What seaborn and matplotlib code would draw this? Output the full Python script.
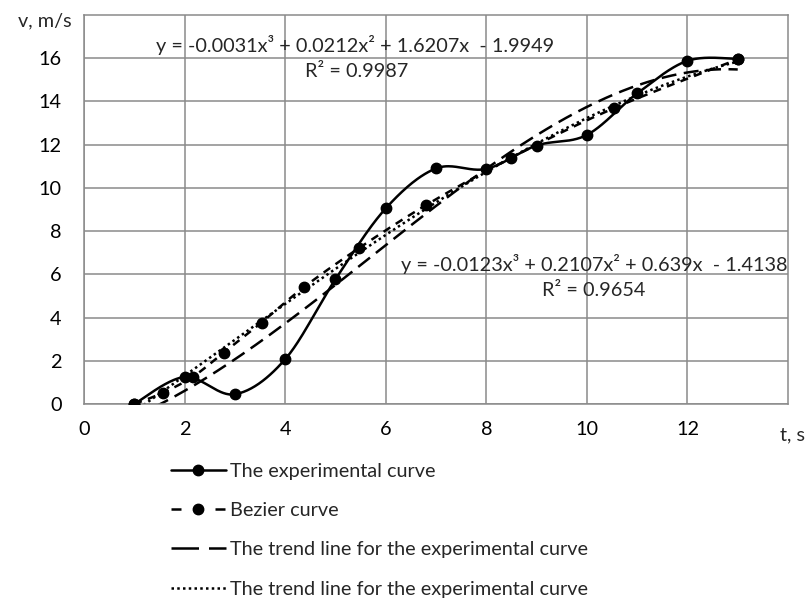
import numpy as np
import pandas as pd
import matplotlib
matplotlib.use("Agg")
import matplotlib.pyplot as plt
from matplotlib.lines import Line2D
import matplotlib.transforms as mtransforms
import seaborn as sns

# Measured velocity over time
exp_t = [1, 2, 3, 4, 5, 6, 7, 8, 9, 10, 11, 12, 13]
exp_v = [0.0, 1.25, 0.45, 2.07, 5.77, 9.05, 10.9, 10.88, 11.96, 12.45, 14.37, 15.88, 15.97]

# Points of the Bezier approximation
bez_t = [1.0, 1.57, 2.17, 2.78, 3.53, 4.37, 5.46, 6.8, 8.5, 10.54, 13.0]
bez_v = [0.0, 0.52, 1.27, 2.38, 3.77, 5.40, 7.20, 9.20, 11.40, 13.69, 15.95]

# Cubic trend-line coefficients (x^3, x^2, x, 1)
trend_bez = [-0.0031, 0.0212, 1.6207, -1.9949]
r2_bez = 0.9987
trend_exp = [-0.0123, 0.2107, 0.639, -1.4138]
r2_exp = 0.9654

x_ticks = [0, 2, 4, 6, 8, 10, 12]
y_ticks = [0, 2, 4, 6, 8, 10, 12, 14, 16]

legend_labels = [
    "The experimental curve",
    "Bezier curve",
    "The trend line for the experimental curve",
    "The trend line for the experimental curve",
]


def smooth_curve(xs, ys, n=40):
    """Spreadsheet-style smoothed line: cubic Bezier segments through every point."""
    p = np.column_stack([xs, ys]).astype(float)
    ext = np.vstack([p[0], p, p[-1]])
    out = []
    for i in range(len(p) - 1):
        p0, p1, p2, p3 = ext[i], ext[i + 1], ext[i + 2], ext[i + 3]
        c1 = p1 + (p2 - p0) / 6.0
        c2 = p2 - (p3 - p1) / 6.0
        s = np.linspace(0, 1, n, endpoint=(i == len(p) - 2))[:, None]
        seg = ((1 - s) ** 3) * p1 + 3 * ((1 - s) ** 2) * s * c1 + 3 * (1 - s) * s ** 2 * c2 + s ** 3 * p2
        out.append(seg)
    out = np.vstack(out)
    return out[:, 0], out[:, 1]


def fmt_eq(c):
    def term(v):
        return f"+ {v:g}" if v >= 0 else f"- {abs(v):g}"
    return f"y = {c[0]:g}x³ {term(c[1])}x² {term(c[2])}x  {term(c[3])}"


sns.set_theme(style="white")
plt.rcParams["font.family"] = ["Lato", "DejaVu Sans"]

FS = 14.3

fig = plt.figure(figsize=(8.11, 5.99), dpi=100)
ax = fig.add_axes([84 / 811, 1 - 404 / 599, (788 - 84) / 811, (404 - 15) / 599])

lw = 1.8
ms = 7.5
ls_bez = (0, (3.2, 2.6))
ls_trend_exp = (0, (6, 3))
ls_trend_bez = (0, (1, 1.3))

# Trend lines
xt = np.linspace(min(exp_t), max(exp_t), 300)
df_te = pd.DataFrame({"t": xt, "v": np.polyval(trend_exp, xt)})
df_tb = pd.DataFrame({"t": xt, "v": np.polyval(trend_bez, xt)})
sns.lineplot(data=df_te, x="t", y="v", ax=ax, color="black", lw=lw,
             linestyle=ls_trend_exp, sort=False, estimator=None)
sns.lineplot(data=df_tb, x="t", y="v", ax=ax, color="black", lw=lw,
             linestyle=ls_trend_bez, sort=False, estimator=None)

# Bezier curve
bx, by = smooth_curve(bez_t, bez_v)
sns.lineplot(x=bx, y=by, ax=ax, color="black", lw=lw,
             linestyle=ls_bez, sort=False, estimator=None)
ax.plot(bez_t, bez_v, "o", color="black", ms=ms, zorder=4)

# Experimental curve
ex, ey = smooth_curve(exp_t, exp_v)
sns.lineplot(x=ex, y=ey, ax=ax, color="black", lw=lw, sort=False, estimator=None)
ax.plot(exp_t, exp_v, "o", color="black", ms=ms, zorder=5)

ax.set_xlim(0, 14)
ax.set_ylim(0, 18)
ax.set_xticks(x_ticks)
ax.set_yticks(y_ticks)
ax.set_xlabel("")
ax.set_ylabel("")
ax.grid(True, color="#8a8a8a", lw=1.1)
ax.set_axisbelow(True)
for s in ax.spines.values():
    s.set_color("#8a8a8a")
    s.set_linewidth(1.1)
ax.tick_params(axis="both", length=0, labelsize=FS, colors="black")
ax.tick_params(axis="x", pad=12)
ax.tick_params(axis="y", pad=16)

# Axis captions at the ends of the axes
ax.text(-12 / 704, 17.75, "v, m/s", transform=ax.get_yaxis_transform(),
        ha="right", va="center", fontsize=FS)
ax.text(13.84, 0, "t, s", ha="left", va="center", fontsize=FS, clip_on=False,
        transform=ax.transData + mtransforms.ScaledTranslation(0, -0.31, fig.dpi_scale_trans))

# Trend-line equations
ax.text(5.40, 16.62, fmt_eq(trend_bez), ha="center", va="center", fontsize=FS)
ax.text(5.43, 15.38, f"R² = {r2_bez}", ha="center", va="center", fontsize=FS)
ax.text(10.14, 6.50, fmt_eq(trend_exp), ha="center", va="center", fontsize=FS)
ax.text(10.14, 5.25, f"R² = {r2_exp}", ha="center", va="center", fontsize=FS)

handles = [
    Line2D([], [], color="black", lw=lw, marker="o", ms=ms),
    Line2D([], [], color="black", lw=lw, marker="o", ms=ms, linestyle=(0, (4, 4.8))),
    Line2D([], [], color="black", lw=lw, linestyle=(0, (11, 4))),
    Line2D([], [], color="black", lw=lw, linestyle=ls_trend_bez),
]
fig.legend(handles, legend_labels, loc="upper left",
           bbox_to_anchor=(161 / 811, 1 - 453 / 599), frameon=False,
           fontsize=FS, handlelength=2.75, handletextpad=0.2, labelspacing=1.12,
           borderpad=0.0)

fig.savefig("out.png", dpi=100)
